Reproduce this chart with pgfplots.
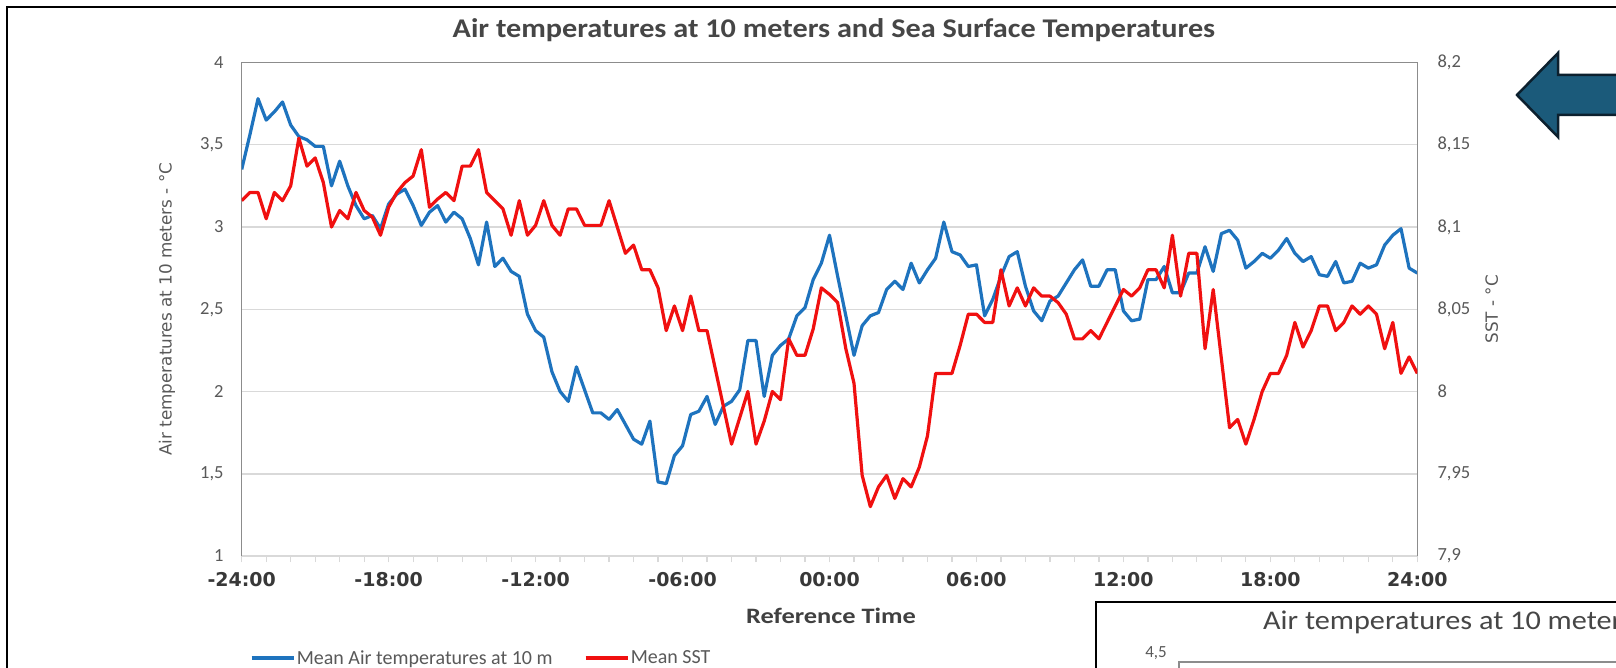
\documentclass[border=0pt]{standalone}
\usepackage{fontspec}
\setmainfont{Carlito}
\newfontfamily\dejavu{DejaVu Sans}
\usepackage{graphicx}
\usepackage{pgfplots}
\pgfplotsset{compat=1.18}
\usepackage{pgfplotstable}

\definecolor{cblue}{RGB}{30,115,190}
\definecolor{cred}{RGB}{240,16,16}
\definecolor{txtgray}{RGB}{89,89,89}
\definecolor{titlegray}{RGB}{70,70,70}
\definecolor{gridgray}{RGB}{217,217,217}
\definecolor{axgray}{RGB}{140,140,140}
\definecolor{arrowfill}{RGB}{27,90,122}
\definecolor{arrowline}{RGB}{12,32,46}

% index i: 20-minute steps from -24:00 (i=0) to +24:00 (i=144)
\pgfplotstableread{
i v
0 3.35
1 3.56
2 3.78
3 3.65
4 3.70
5 3.76
6 3.62
7 3.55
8 3.53
9 3.49
10 3.49
11 3.25
12 3.40
13 3.25
14 3.13
15 3.05
16 3.07
17 2.99
18 3.14
19 3.20
20 3.23
21 3.13
22 3.01
23 3.09
24 3.13
25 3.03
26 3.09
27 3.05
28 2.93
29 2.77
30 3.03
31 2.76
32 2.81
33 2.73
34 2.70
35 2.47
36 2.37
37 2.33
38 2.12
39 2.00
40 1.94
41 2.15
42 2.01
43 1.87
44 1.87
45 1.83
46 1.89
47 1.80
48 1.71
49 1.68
50 1.82
51 1.45
52 1.44
53 1.61
54 1.67
55 1.86
56 1.88
57 1.97
58 1.80
59 1.91
60 1.94
61 2.01
62 2.31
63 2.31
64 1.97
65 2.22
66 2.28
67 2.32
68 2.46
69 2.51
70 2.68
71 2.78
72 2.95
73 2.70
74 2.46
75 2.22
76 2.40
77 2.46
78 2.48
79 2.62
80 2.67
81 2.62
82 2.78
83 2.66
84 2.74
85 2.81
86 3.03
87 2.85
88 2.83
89 2.76
90 2.77
91 2.46
92 2.56
93 2.70
94 2.82
95 2.85
96 2.64
97 2.49
98 2.43
99 2.55
100 2.58
101 2.66
102 2.74
103 2.80
104 2.64
105 2.64
106 2.74
107 2.74
108 2.49
109 2.43
110 2.44
111 2.68
112 2.68
113 2.76
114 2.60
115 2.60
116 2.72
117 2.72
118 2.88
119 2.73
120 2.96
121 2.98
122 2.92
123 2.75
124 2.79
125 2.84
126 2.81
127 2.86
128 2.93
129 2.84
130 2.79
131 2.82
132 2.71
133 2.70
134 2.79
135 2.66
136 2.67
137 2.78
138 2.75
139 2.77
140 2.89
141 2.95
142 2.99
143 2.75
144 2.72
}\airdata

\pgfplotstableread{
i sst
0 8.116
1 8.121
2 8.121
3 8.105
4 8.121
5 8.116
6 8.125
7 8.154
8 8.137
9 8.142
10 8.127
11 8.100
12 8.110
13 8.105
14 8.121
15 8.110
16 8.106
17 8.095
18 8.112
19 8.121
20 8.127
21 8.131
22 8.147
23 8.112
24 8.117
25 8.121
26 8.116
27 8.137
28 8.137
29 8.147
30 8.121
31 8.116
32 8.111
33 8.095
34 8.116
35 8.095
36 8.101
37 8.116
38 8.101
39 8.095
40 8.111
41 8.111
42 8.101
43 8.101
44 8.101
45 8.116
46 8.100
47 8.084
48 8.089
49 8.074
50 8.074
51 8.063
52 8.037
53 8.052
54 8.037
55 8.058
56 8.037
57 8.037
58 8.014
59 7.991
60 7.968
61 7.984
62 8.000
63 7.968
64 7.982
65 8.000
66 7.995
67 8.032
68 8.022
69 8.022
70 8.038
71 8.063
72 8.059
73 8.054
74 8.026
75 8.005
76 7.949
77 7.930
78 7.942
79 7.949
80 7.935
81 7.947
82 7.942
83 7.954
84 7.973
85 8.011
86 8.011
87 8.011
88 8.028
89 8.047
90 8.047
91 8.042
92 8.042
93 8.074
94 8.052
95 8.063
96 8.052
97 8.063
98 8.058
99 8.058
100 8.054
101 8.047
102 8.032
103 8.032
104 8.037
105 8.032
106 8.042
107 8.052
108 8.062
109 8.058
110 8.063
111 8.074
112 8.074
113 8.063
114 8.095
115 8.058
116 8.084
117 8.084
118 8.026
119 8.062
120 8.020
121 7.978
122 7.983
123 7.968
124 7.983
125 8.000
126 8.011
127 8.011
128 8.022
129 8.042
130 8.027
131 8.037
132 8.052
133 8.052
134 8.037
135 8.042
136 8.052
137 8.047
138 8.052
139 8.047
140 8.026
141 8.042
142 8.011
143 8.021
144 8.011
}\sstdata

\newcommand\titletext{\scalebox{1.12}[1]{\bfseries\fontsize{27}{31}\selectfont Air temperatures at 10 meters and Sea Surface Temperatures}}
\newcommand\secondtitle{\scalebox{1.12}[1]{\fontsize{27}{31}\selectfont Air temperatures at 10 meters and Sea Surface Temperatures}}

\begin{document}
\begin{tikzpicture}[x=1pt,y=1pt]
\useasboundingbox (0,0) rectangle (1616,667);
\fill[white] (0,0) rectangle (1616,667);
% outer frame
\draw[black, line width=2.5] (7,-40) rectangle (1700,660);
% title
\node[text=titlegray, inner sep=0pt] at (834,637) {\titletext};
% x label
\node[text=black!75, inner sep=0pt] at (831,51) {\scalebox{1.2}[1]{\bfseries\fontsize{22}{26}\selectfont Reference Time}};

\begin{axis}[
  at={(241.7pt,111pt)}, anchor=south west,
  scale only axis, width=1175.6pt, height=493.5pt,
  xmin=0, xmax=144, ymin=1, ymax=4,
  axis x line*=bottom, axis y line*=left,
  x axis line style={gridgray, line width=1.5pt},
  y axis line style={axgray, line width=1.5pt},
  xtick={0,18,...,144},
  xticklabels={-24:00,-18:00,-12:00,-06:00,00:00,06:00,12:00,18:00,24:00},
  minor xtick={0,3,...,144},
  xtick align=outside,
  major tick length=6pt, minor tick length=6pt,
  xtick style={gridgray, line width=1.2pt},
  minor x tick style={gridgray, line width=1.2pt},
  ytick={1,1.5,2,2.5,3,3.5,4},
  yticklabels={1,{1,5},2,{2,5},3,{3,5},4},
  ytick style={draw=none},
  ymajorgrids, major grid style={gridgray, line width=1.5pt},
  yticklabel style={font=\fontsize{18.5}{20}\selectfont, text=txtgray, anchor=east, inner sep=0pt, xshift=-18pt},
  xticklabel style={font=\dejavu\bfseries\fontsize{19}{21}\selectfont, text=black!78, anchor=north, inner sep=0pt, yshift=-10pt},
  ylabel={Air temperatures at 10 meters - °C},
  every axis y label/.style={at={(axis description cs:-0.0635,0.5)}, rotate=90, anchor=center, font=\dejavu\fontsize{16.8}{19}\selectfont, text=txtgray},
  legend style={at={(axis description cs:0.007,-0.2067)}, anchor=west, draw=none, fill=none,
    font=\fontsize{20}{22}\selectfont, text=txtgray, legend columns=2,
    /tikz/every even column/.append style={column sep=30pt}, inner sep=0pt, nodes={inner sep=1.5pt}},
  legend image code/.code={\draw[#1] (0pt,0pt) -- (42pt,0pt);},
]
\draw[axgray, line width=1.5pt] (rel axis cs:0,1) -- (rel axis cs:1,1);
\addplot[cblue, line width=3.2pt, line join=round] table[x=i, y=v] {\airdata};
\addlegendentry{Mean Air temperatures at 10 m}
\addlegendimage{cred, line width=3.2pt}
\addlegendentry{Mean SST}
\end{axis}

\begin{axis}[
  at={(241.7pt,111pt)}, anchor=south west,
  scale only axis, width=1175.6pt, height=493.5pt,
  xmin=0, xmax=144, ymin=7.9, ymax=8.2,
  axis y line*=right, axis x line=none,
  y axis line style={axgray, line width=1.5pt},
  ytick={7.9,7.95,8,8.05,8.1,8.15,8.2},
  yticklabels={{7,9},{7,95},8,{8,05},{8,1},{8,15},{8,2}},
  ytick style={draw=none},
  yticklabel style={font=\fontsize{18.5}{20}\selectfont, text=txtgray, anchor=west, inner sep=0pt, xshift=20pt},
  ylabel={SST - °C},
  every axis y label/.style={at={(axis description cs:1.0633,0.5)}, rotate=90, anchor=center, font=\dejavu\fontsize{16.8}{19}\selectfont, text=txtgray},
]
\addplot[cred, line width=3.2pt, line join=round] table[x=i, y=sst] {\sstdata};
\end{axis}

% second chart (cropped at the bottom right)
\filldraw[fill=white, draw=black, line width=2.5] (1096,-40) rectangle (1700,65);
\node[anchor=west, text=titlegray, inner sep=0pt] at (1263,45) {\secondtitle};
\node[anchor=east, font=\fontsize{17}{19}\selectfont, text=txtgray, inner sep=0pt] at (1167,14) {4,5};
\draw[axgray, line width=1.5] (1179,-10) -- (1179,5) -- (1700,5);

% arrow
\filldraw[fill=arrowfill, draw=arrowline, line width=2.5, line join=miter]
  (1517,572) -- (1558,614) -- (1558,592) -- (1640,592) -- (1640,552) -- (1558,552) -- (1558,530) -- cycle;
\end{tikzpicture}
\end{document}
